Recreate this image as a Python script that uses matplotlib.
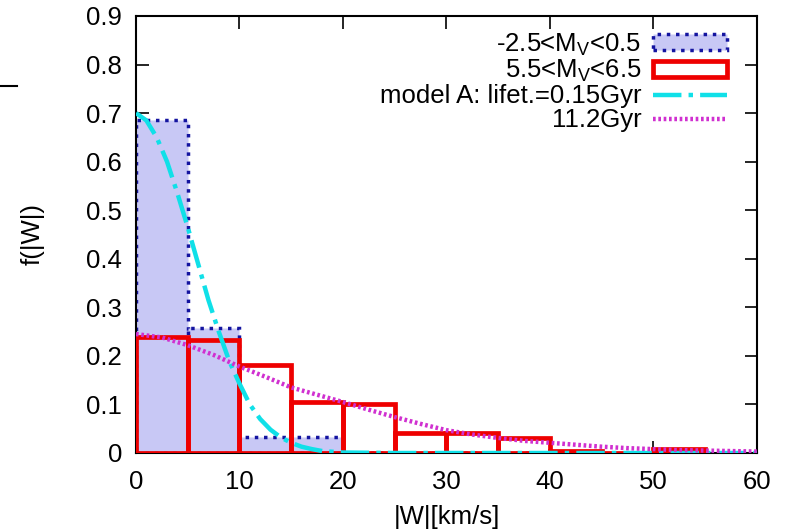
import matplotlib.pyplot as plt
from matplotlib.lines import Line2D
from matplotlib.patches import Patch

plt.rcParams['font.family'] = ['Liberation Sans', 'DejaVu Sans']
plt.rcParams['mathtext.fontset'] = 'custom'
plt.rcParams['mathtext.rm'] = 'Liberation Sans'

# histogram bins (left edges, width 5 km/s)
blue_left = [0, 5, 10, 15, 20, 25, 30, 35, 40]
blue_f = [0.685, 0.257, 0.032, 0.032, 0.0, 0.0, 0.0, 0.0, 0.0]
red_left = [0, 5, 10, 15, 20, 25, 30, 35, 40, 45, 50]
red_f = [0.238, 0.232, 0.181, 0.106, 0.101, 0.041, 0.041, 0.030, 0.004, 0.0, 0.008]

# model curves
cyan_x = [0, 1, 2, 3, 4, 5, 6, 7, 8, 9, 10, 11, 12, 13, 14, 15, 16, 17, 18, 20, 25, 30, 40, 50, 60]
cyan_y = [0.70, 0.685, 0.65, 0.60, 0.535, 0.465, 0.39, 0.315, 0.25, 0.19, 0.143, 0.10, 0.07,
          0.048, 0.032, 0.021, 0.013, 0.008, 0.004, 0.001, 0.0, 0.0, 0.0, 0.0, 0.0]
mag_x = [0, 2.5, 5, 7.5, 10, 12.5, 15, 17.5, 20, 22.5, 25, 27.5, 30, 32.5, 35, 37.5,
         40, 42.5, 45, 47.5, 50, 52.5, 55, 57.5, 60]
mag_y = [0.245, 0.238, 0.222, 0.202, 0.178, 0.157, 0.135, 0.12, 0.105, 0.089, 0.074, 0.06,
         0.047, 0.038, 0.031, 0.025, 0.021, 0.017, 0.013, 0.010, 0.008, 0.006, 0.005, 0.004, 0.003]

xticks = [0, 10, 20, 30, 40, 50, 60]
yticks = [0, 0.1, 0.2, 0.3, 0.4, 0.5, 0.6, 0.7, 0.8, 0.9]
ylabels = ['0', '0.1', '0.2', '0.3', '0.4', '0.5', '0.6', '0.7', '0.8', '0.9']

fs = 18.5

fig = plt.figure(figsize=(7.86, 5.32), dpi=100)
ax = fig.add_axes([0.173, 0.1485, 0.79, 0.8215])

ax.bar(blue_left, blue_f, width=5, align='edge', color='#c8c8f5', edgecolor='#1414a0',
       linestyle=':', linewidth=2.5, zorder=2)
ax.bar(red_left, red_f, width=5, align='edge', facecolor='none', edgecolor='#ee0000',
       linewidth=3.4, zorder=3)
ax.plot(cyan_x, cyan_y, color='#10e0e8', linestyle='-.', linewidth=3.2, zorder=4)
ax.plot(mag_x, mag_y, color='#d030d0', linestyle=(0, (0.6, 0.6)), linewidth=3.2, zorder=4)

handles = [
    Patch(facecolor='#c8c8f5', edgecolor='#1414a0', linestyle=':', linewidth=2.5),
    Patch(facecolor='white', edgecolor='#ee0000', linewidth=3.4),
    Line2D([], [], color='#10e0e8', linestyle='-.', linewidth=3.2),
    Line2D([], [], color='#d030d0', linestyle=(0, (0.6, 0.6)), linewidth=3.2),
]
labels = ['-2.5<M$_{\\mathrm{V}}$<0.5', '5.5<M$_{\\mathrm{V}}$<6.5',
          'model A: lifet.=0.15Gyr', '11.2Gyr']
ax.legend(handles, labels, loc='upper right', bbox_to_anchor=(0.977, 1.0), frameon=False,
          markerfirst=False, fontsize=fs, handlelength=2.9, handleheight=0.6,
          labelspacing=0.0, handletextpad=0.45, borderaxespad=0.2)

ax.set_xlim(0, 60)
ax.set_ylim(0, 0.9)
ax.set_xticks(xticks)
ax.set_yticks(yticks)
ax.set_yticklabels(ylabels)
ax.tick_params(direction='in', length=9, width=1.2, top=True, right=True,
               labelsize=fs, pad=10)
ax.tick_params(axis='x', pad=12)
for s in ax.spines.values():
    s.set_linewidth(1.5)
ax.set_xlabel('|W|[km/s]', fontsize=fs, labelpad=8)
ax.set_ylabel('f(|W|)', fontsize=fs, labelpad=30)

# stray short line at the top left of the original
fig.add_artist(Line2D([0.0, 0.021], [0.838, 0.838], color='black', linewidth=1.5))

fig.savefig('out.png', dpi=100)
